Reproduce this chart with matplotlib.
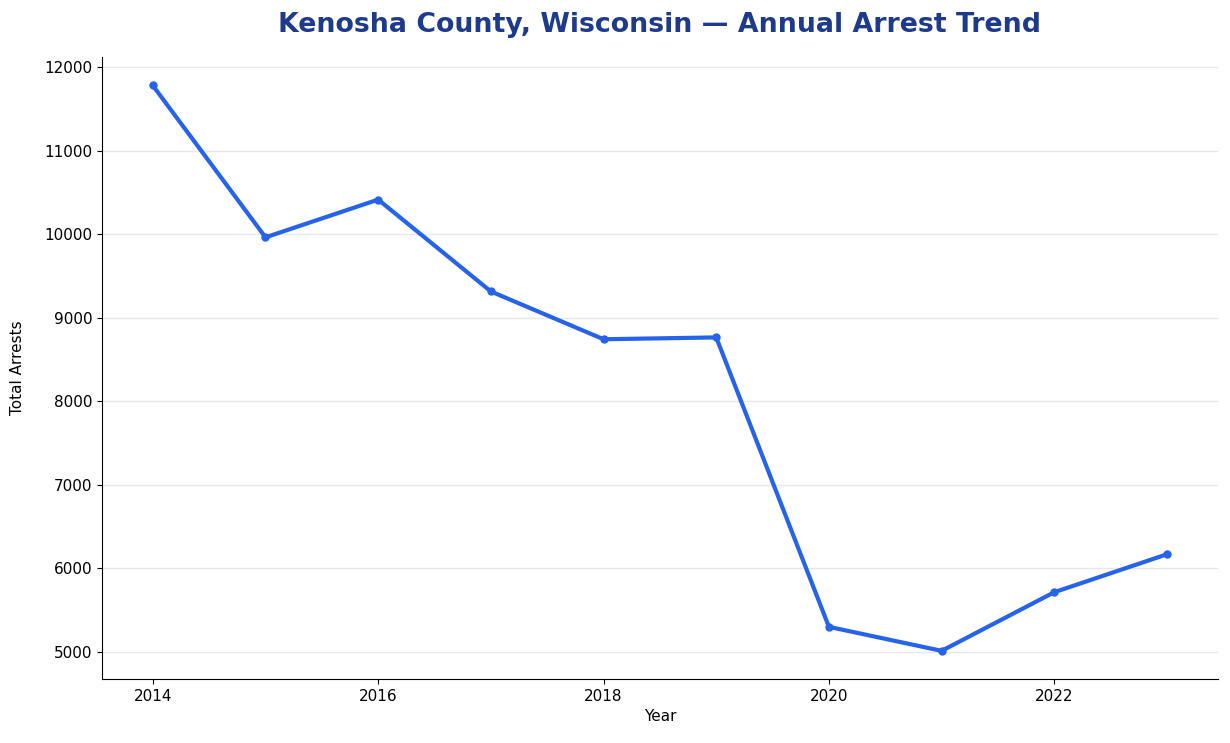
import matplotlib
matplotlib.use("Agg")
import matplotlib.pyplot as plt

# Annual arrests
years = [2014, 2015, 2016, 2017, 2018, 2019, 2020, 2021, 2022, 2023]
arrests = [11780, 9962, 10414, 9314, 8742, 8764, 5299, 5012, 5714, 6168]

fig, ax = plt.subplots(figsize=(12.3, 7.43), dpi=100)

ax.plot(years, arrests, color="#2563eb", linewidth=3, marker="o", markersize=5)

ax.set_title("Kenosha County, Wisconsin — Annual Arrest Trend",
             fontsize=19.3, fontweight="bold", color="#1e3a8a", pad=18)
ax.set_xlabel("Year", fontsize=11)
ax.set_ylabel("Total Arrests", fontsize=11, labelpad=14)
ax.tick_params(labelsize=11)

ax.grid(axis="y", color="#e5e7eb", linewidth=1)
ax.set_axisbelow(True)
ax.spines["top"].set_visible(False)
ax.spines["right"].set_visible(False)

fig.subplots_adjust(left=0.083, right=0.99, top=0.923, bottom=0.086)
fig.savefig("out.png", dpi=100)
